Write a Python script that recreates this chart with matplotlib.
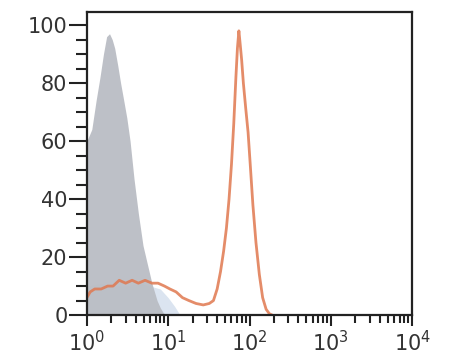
import matplotlib.pyplot as plt
from matplotlib.ticker import LogLocator, MultipleLocator

# isotype control (grey filled histogram)
iso_x = [1.0, 1.15, 1.3, 1.45, 1.6, 1.75, 1.9, 2.05, 2.2, 2.4, 2.6, 2.8, 3.1, 3.4,
         3.8, 4.3, 4.9, 5.5, 6.3, 7.3, 8.0, 8.7, 9.5]
iso_y = [60, 64, 74, 82, 90, 96, 97, 95, 92, 86, 80, 75, 68, 60,
         47, 35, 24, 18, 11, 5, 2.5, 0.8, 0]

# faint bluish background population
bg_x = [1.0, 1.5, 2.0, 3.0, 4.5, 6.0, 8.0, 10.0, 12.0, 14.0]
bg_y = [10, 11, 10, 10, 11, 10, 9, 6, 3, 0]

# stained sample (orange line histogram)
st_x = [1.0, 1.1, 1.25, 1.5, 1.8, 2.1, 2.5, 3.0, 3.6, 4.3, 5.2, 6.3, 7.5, 9.0,
        10.5, 12.5, 15, 18, 22, 27, 32, 36, 40, 44, 48, 52, 56, 60, 64, 68,
        71, 74, 77, 80, 84, 90, 96, 102, 110, 120, 132, 145, 160, 175, 190]
st_y = [6, 8, 9, 9, 10, 10, 12, 11, 12, 11, 12, 11, 11, 10,
        9, 8, 6, 5, 4, 3.5, 4, 5, 9, 15, 22, 30, 40, 52, 66, 82,
        92, 98, 93, 88, 80, 71, 63, 52, 38, 25, 14, 6, 2, 0.5, 0]

fig = plt.figure(figsize=(4.5, 3.63), dpi=100)
ax = fig.add_axes([0.193, 0.132, 0.723, 0.835])

ax.fill_between(bg_x, bg_y, 0, color='#c3d3e6', alpha=0.6, lw=0)
ax.fill_between(iso_x, iso_y, 0, color='#babdc4', lw=0, alpha=0.95)
ax.plot(st_x, st_y, color='#e0784f', lw=2.0, alpha=0.85, solid_joinstyle='round')

ax.set_xscale('log')
ax.set_xlim(1, 1e4)
ax.set_ylim(0, 104.5)

ax.xaxis.set_major_locator(LogLocator(base=10, numticks=10))
ax.xaxis.set_minor_locator(LogLocator(base=10, subs=range(2, 10), numticks=10))
ax.yaxis.set_major_locator(MultipleLocator(20))
ax.yaxis.set_minor_locator(MultipleLocator(5))

txt = '#333333'
ax.tick_params(axis='both', which='both', direction='out', color='#222222',
               width=1.5, labelsize=15, labelcolor=txt)
ax.tick_params(axis='y', which='major', length=13, pad=1)
ax.tick_params(axis='y', which='minor', length=8)
ax.tick_params(axis='x', which='major', length=8, pad=3)
ax.tick_params(axis='x', which='minor', length=6)

for s in ax.spines.values():
    s.set_linewidth(1.6)
    s.set_color('#222222')

plt.savefig('out.png', dpi=100)
